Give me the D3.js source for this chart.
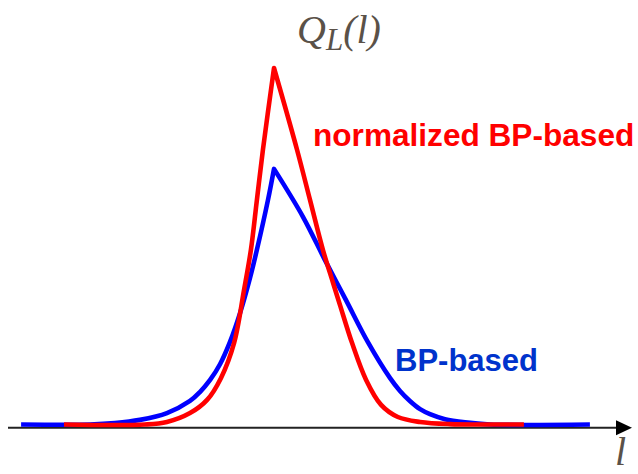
<!DOCTYPE html>
<html>
<head>
<meta charset="utf-8">
<script src="https://cdn.jsdelivr.net/npm/d3@7"></script>
<style>
  html, body { margin: 0; padding: 0; background: #fff; }
  svg { display: block; }
</style>
</head>
<body>
<svg id="chart" width="638" height="474"></svg>
<script>
// Position l along the axis (peak at l = 0) and distribution value Q_L(l).
const normL = [-7.0, -4.3, -3.57, -2.8, -2.23, -1.77, -1.33, -1.0, -0.77, -0.57, -0.37, 0,
               0.77, 1.2, 1.63, 1.97, 2.2, 2.6, 3.07, 3.57, 4.13, 4.87, 5.87, 6.87, 8.33];
const normQ = [0, 0, 0.007, 0.032, 0.069, 0.13, 0.229, 0.377, 0.49, 0.63, 0.77, 1.0,
               0.77, 0.63, 0.49, 0.397, 0.335, 0.229, 0.125, 0.055, 0.021, 0.007, 0.001, 0, 0];

const bpL = [-8.43, -6.13, -5.3, -4.47, -3.57, -2.8, -2.47, -2.13, -1.8, -1.47, -1.13, -0.8, -0.57, -0.2, 0,
             0.97, 1.7, 2.4, 3.13, 3.87, 4.2, 4.53, 4.87, 5.2, 5.7, 6.37, 7.2, 10.53];
const bpQ = [0, 0, 0.004, 0.013, 0.032, 0.066, 0.091, 0.125, 0.169, 0.231, 0.313, 0.411, 0.49, 0.63, 0.717,
             0.582, 0.461, 0.349, 0.231, 0.13, 0.094, 0.066, 0.043, 0.029, 0.015, 0.006, 0, 0];

const seriesNames = ["BP-based", "normalized BP-based"];
const yLabel = "Q";
const yLabelSub = "L";
const yLabelArg = "(l)";
const xLabel = "l";

const svg = d3.select("#chart");

const x = d3.scaleLinear().domain([-9, 12]).range([4, 634]);
const y = d3.scaleLinear().domain([0, 1]).range([424.5, 68]);

// Each curve is a two-sided peak: smooth each flank separately and join them at the apex.
function peakPath(ls, qs) {
  const pts = ls.map((l, i) => [l, qs[i]]);
  const iPeak = d3.maxIndex(qs);
  const line = d3.line()
    .x(d => x(d[0]))
    .y(d => Math.min(y(d[1]), y(0)))
    .curve(d3.curveCatmullRom.alpha(0.5));
  const left = line(pts.slice(0, iPeak + 1));
  const right = line(pts.slice(iPeak));
  return left + right.replace(/^M[^A-Za-z]*/, "");
}

// horizontal l-axis with arrowhead
const axisY = 427.7;
svg.append("line")
  .attr("x1", 8).attr("x2", 618)
  .attr("y1", axisY).attr("y2", axisY)
  .attr("stroke", "#222").attr("stroke-width", 2);
svg.append("path")
  .attr("d", `M616,${axisY - 7.5} L632,${axisY} L616,${axisY + 7.5} Z`)
  .attr("fill", "#000");

// curves
svg.append("path")
  .attr("d", peakPath(bpL, bpQ))
  .attr("fill", "none")
  .attr("stroke", "#0000ff")
  .attr("stroke-width", 4.6)
  .attr("stroke-linejoin", "round");

svg.append("path")
  .attr("d", peakPath(normL, normQ))
  .attr("fill", "none")
  .attr("stroke", "#ff0000")
  .attr("stroke-width", 4.6)
  .attr("stroke-linejoin", "round");

// labels
const serif = "'Liberation Serif', 'Times New Roman', Times, serif";
const sans = "'Liberation Sans', Arial, Helvetica, sans-serif";
const labelGrey = "#5a5148";

const title = svg.append("text")
  .attr("x", 297).attr("y", 43)
  .attr("font-family", serif)
  .attr("font-style", "italic")
  .attr("fill", labelGrey)
  .attr("font-size", 40);
title.append("tspan").text(yLabel);
title.append("tspan").attr("dy", 7).attr("font-size", 31).text(yLabelSub);
title.append("tspan").attr("dy", -7).text(yLabelArg);

svg.append("text")
  .attr("x", 615).attr("y", 465)
  .attr("font-family", serif)
  .attr("font-style", "italic")
  .attr("font-size", 40)
  .attr("fill", labelGrey)
  .text(xLabel);

svg.append("text")
  .attr("x", 313).attr("y", 146)
  .attr("font-family", sans)
  .attr("font-weight", "bold")
  .attr("font-size", 31.6)
  .attr("fill", "#ff0000")
  .text(seriesNames[1]);

svg.append("text")
  .attr("x", 395).attr("y", 371)
  .attr("font-family", sans)
  .attr("font-weight", "bold")
  .attr("font-size", 31)
  .attr("fill", "#0033cc")
  .text(seriesNames[0]);
</script>
</body>
</html>
